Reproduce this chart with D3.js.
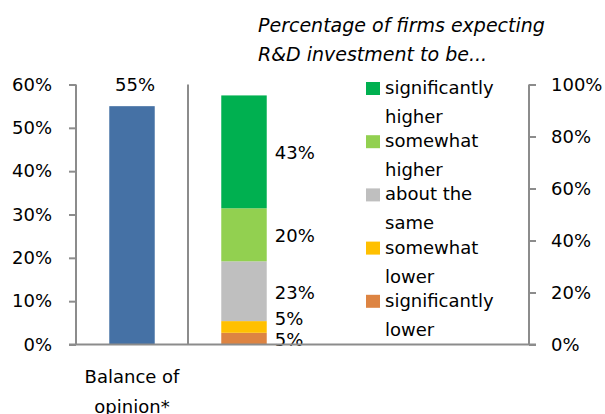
<!DOCTYPE html>
<html>
<head>
<meta charset="utf-8">
<script src="https://cdn.jsdelivr.net/npm/d3@7"></script>
<style>
  body { margin: 0; background: #fff; }
  text { font-family: "DejaVu Sans", sans-serif; fill: #000; }
</style>
</head>
<body>
<div id="chart"></div>
<script>
// data
let categories = ["Balance of opinion*", "Percentage of firms"]
let balanceLines = ["Balance of", "opinion*"]
let balanceValue = 55
let responses = ["significantly lower", "somewhat lower", "about the same", "somewhat higher", "significantly higher"]
let responseValues = [4.5, 4.5, 23, 20.4, 43.4]
let responseColors = ["#dd8442", "#ffc000", "#bfbfbf", "#92d050", "#00b050"]
let legendLines = [["significantly", "higher"], ["somewhat", "higher"], ["about the", "same"], ["somewhat", "lower"], ["significantly", "lower"]]
let leftTicks = [0, 10, 20, 30, 40, 50, 60]
let rightTicks = [0, 20, 40, 60, 80, 100]
let titleLines = ["Percentage of firms expecting", "R&D investment to be..."]

let w = 605
let h = 414
let pLeft = 76, pRight = 529, pTop = 84.5, pBottom = 344.5
let axisColor = "#8c8c8c"
let fs = 18

let svg = d3.select("#chart").append("svg")
  .attr("width", w)
  .attr("height", h)

let x = d3.scaleBand()
  .domain(categories)
  .range([pLeft, 300])
  .paddingInner(0.594)
  .paddingOuter(0.297)

let yLeft = d3.scaleLinear().domain([0, 60]).range([pBottom, pTop])
let yRight = d3.scaleLinear().domain([0, 100]).range([pBottom, pTop])

// balance bar
svg.append("rect")
  .attr("x", x(categories[0]))
  .attr("width", x.bandwidth())
  .attr("y", yLeft(balanceValue))
  .attr("height", yLeft(0) - yLeft(balanceValue))
  .attr("fill", "#4571a5")

svg.append("text")
  .attr("x", x(categories[0]) + x.bandwidth() / 2 + 3)
  .attr("y", yLeft(balanceValue) - 15)
  .attr("text-anchor", "middle")
  .style("font-size", fs + "px")
  .text(balanceValue + "%")

// stacked bar
let stacked = d3.stack().keys(responses)([Object.fromEntries(responses.map((k, i) => [k, responseValues[i]]))])
let bx = x(categories[1])
svg.selectAll(".seg")
  .data(stacked)
  .join("rect")
  .attr("class", "seg")
  .attr("x", bx)
  .attr("width", x.bandwidth())
  .attr("y", d => yRight(d[0][1]))
  .attr("height", d => yRight(d[0][0]) - yRight(d[0][1]))
  .attr("fill", (d, i) => responseColors[i])

// labels right of segments, pushed apart when crowded
let prev = Infinity
let labelY = stacked.map(d => {
  let c = (yRight(d[0][0]) + yRight(d[0][1])) / 2
  let yy = Math.min(c + 1, prev - 21)
  prev = yy
  return yy
})
svg.selectAll(".seglab")
  .data(stacked)
  .join("text")
  .attr("class", "seglab")
  .attr("x", bx + x.bandwidth() + 8)
  .attr("y", (d, i) => labelY[i])
  .attr("dy", "0.35em")
  .style("font-size", fs + "px")
  .text((d, i) => Math.round(responseValues[i]) + "%")

// axes
let axL = svg.append("g")
  .attr("transform", `translate(${pLeft},0)`)
  .call(d3.axisLeft(yLeft).tickValues(leftTicks).tickSize(7).tickPadding(17).tickFormat(d => d + "%"))
let axR = svg.append("g")
  .attr("transform", `translate(${pRight},0)`)
  .call(d3.axisRight(yRight).tickValues(rightTicks).tickSize(7).tickPadding(15).tickFormat(d => d + "%"))

for (let ax of [axL, axR]) {
  ax.select(".domain").attr("stroke", axisColor).attr("stroke-width", 2).attr("d", `M0,${pTop}V${pBottom}`)
  ax.selectAll(".tick line").attr("stroke", axisColor).attr("stroke-width", 2)
  ax.selectAll(".tick text").style("font-size", fs + "px").attr("font-family", "DejaVu Sans").attr("fill", "#000")
}

// baseline and category separator
svg.append("line")
  .attr("x1", pLeft - 7).attr("x2", pRight + 7)
  .attr("y1", pBottom).attr("y2", pBottom)
  .attr("stroke", axisColor).attr("stroke-width", 2)
svg.append("line")
  .attr("x1", pLeft + x.step()).attr("x2", pLeft + x.step())
  .attr("y1", pTop).attr("y2", pBottom)
  .attr("stroke", axisColor).attr("stroke-width", 2)

// category label
svg.append("text")
  .attr("text-anchor", "middle")
  .style("font-size", fs + "px")
  .selectAll("tspan")
  .data(balanceLines)
  .join("tspan")
  .attr("x", x(categories[0]) + x.bandwidth() / 2)
  .attr("y", (d, i) => 383 + i * 30)
  .text(d => d)

// title
svg.selectAll(".title")
  .data(titleLines)
  .join("text")
  .attr("class", "title")
  .attr("x", 258)
  .attr("y", (d, i) => 32 + i * 29)
  .style("font-size", "19px")
  .style("font-style", "italic")
  .text(d => d)

// legend
let lg = svg.selectAll(".lg")
  .data(legendLines)
  .join("g")
  .attr("class", "lg")
  .attr("transform", (d, i) => `translate(366,${94 + i * 53.2})`)
lg.append("rect")
  .attr("y", -12).attr("width", 14).attr("height", 13)
  .attr("fill", (d, i) => responseColors[responseColors.length - 1 - i])
lg.selectAll("text")
  .data(d => d)
  .join("text")
  .attr("x", 19)
  .attr("y", (d, i) => i * 29)
  .style("font-size", fs + "px")
  .text(d => d)
</script>
</body>
</html>
